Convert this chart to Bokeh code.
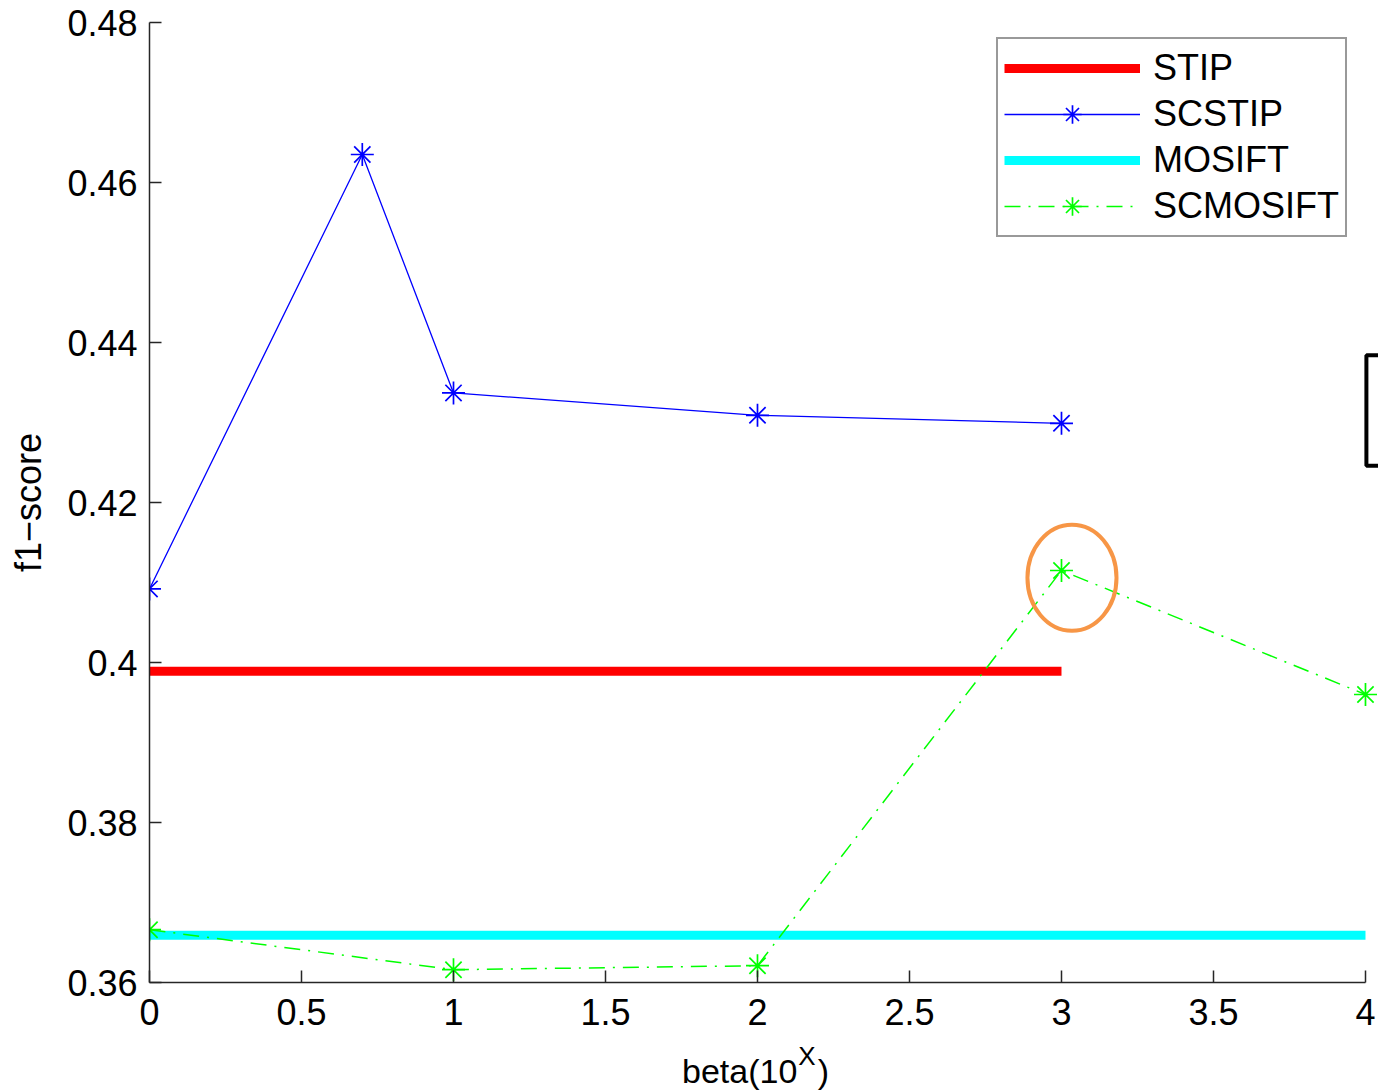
from bokeh.plotting import figure
from bokeh.models import Range1d, FixedTicker, Legend, LegendItem, BoxAnnotation, Div
from bokeh.layouts import column
from bokeh.embed import file_html
from bokeh.resources import INLINE

# ---- data ----
scstip_x = [0, 0.7, 1, 2, 3]
scstip_y = [0.4092, 0.4635, 0.4337, 0.4309, 0.4299]
scmosift_x = [0, 1, 2, 3, 4]
scmosift_y = [0.3666, 0.3616, 0.3621, 0.4115, 0.3960]
stip_x = [0, 3]
stip_y = [0.3989, 0.3989]
mosift_x = [0, 4]
mosift_y = [0.3659, 0.3659]

xticks = [0, 0.5, 1, 1.5, 2, 2.5, 3, 3.5, 4]
xtick_labels = ["0", "0.5", "1", "1.5", "2", "2.5", "3", "3.5", "4"]
yticks = [0.36, 0.38, 0.4, 0.42, 0.44, 0.46, 0.48]
ytick_labels = ["0.36", "0.38", "0.4", "0.42", "0.44", "0.46", "0.48"]

FONT = "Liberation Sans"
FIG_H = 1041

p = figure(width=1378, height=FIG_H, output_backend="svg", toolbar_location=None,
           x_range=Range1d(0, 4.0428), y_range=Range1d(0.36, 0.48),
           min_border_left=149, min_border_right=0, min_border_top=22,
           min_border_bottom=FIG_H - 982)
p.outline_line_color = None
p.grid.visible = False
p.background_fill_color = "white"

# axes
for ax in (p.xaxis[0], p.yaxis[0]):
    ax.major_tick_in = 12
    ax.major_tick_out = 0
    ax.minor_tick_in = 0
    ax.minor_tick_out = 0
    ax.axis_line_color = "#262626"
    ax.axis_line_width = 1.5
    ax.major_tick_line_color = "#262626"
    ax.major_tick_line_width = 1.5
    ax.major_label_text_font = FONT
    ax.major_label_text_font_size = "36px"
    ax.major_label_text_color = "black"

p.xaxis.ticker = FixedTicker(ticks=xticks)
p.xaxis.major_label_overrides = dict(zip(xticks, xtick_labels))
p.xaxis.bounds = (0, 4)
p.xaxis.major_label_standoff = 16

p.yaxis.ticker = FixedTicker(ticks=yticks)
p.yaxis.major_label_overrides = dict(zip(yticks, ytick_labels))
p.yaxis.bounds = (0.36, 0.48)
p.yaxis.major_label_standoff = 12
p.yaxis.axis_label = "f1\u2212score"
p.yaxis.axis_label_text_font = FONT
p.yaxis.axis_label_text_font_size = "36px"
p.yaxis.axis_label_text_font_style = "normal"
p.yaxis.axis_label_text_color = "black"
p.yaxis.axis_label_standoff = 15

# series
r_stip = p.line(stip_x, stip_y, line_color="#FF0000", line_width=9)
r_mosift = p.line(mosift_x, mosift_y, line_color="#00FFFF", line_width=9)
r_scstip_l = p.line(scstip_x, scstip_y, line_color="#0000FF", line_width=1.3)
r_scstip_m = p.scatter(scstip_x, scstip_y, marker="asterisk", size=23,
                       line_color="#0000FF", line_width=1.7)
r_scm_l = p.line(scmosift_x, scmosift_y, line_color="#00FF00", line_width=1.5,
                 line_dash="16 8 2 8")
r_scm_m = p.scatter(scmosift_x, scmosift_y, marker="asterisk", size=23,
                    line_color="#00FF00", line_width=1.7)

# orange highlight ellipse
p.ellipse(x=[3.0345], y=[0.4106], width=0.293, height=0.01325,
          fill_color=None, line_color="#F79646", line_width=4)

# partially visible box at right edge
p.add_layout(BoxAnnotation(left=4.003, right=4.6, top=0.4384, bottom=0.4246,
                           fill_alpha=0, line_color="black", line_alpha=1,
                           line_width=4))

legend = Legend(items=[
    LegendItem(label="STIP", renderers=[r_stip]),
    LegendItem(label="SCSTIP", renderers=[r_scstip_l, r_scstip_m]),
    LegendItem(label="MOSIFT", renderers=[r_mosift]),
    LegendItem(label="SCMOSIFT", renderers=[r_scm_l, r_scm_m]),
], location=(847, 745))
legend.label_text_font = FONT
legend.label_text_font_size = "36px"
legend.label_text_color = "black"
legend.glyph_width = 136
legend.glyph_height = 46
legend.label_height = 36
legend.label_standoff = 13
legend.spacing = 0
legend.padding = 6
legend.margin = 0
legend.border_line_color = "#333333"
legend.border_line_width = 2
legend.background_fill_color = "white"
legend.background_fill_alpha = 1
p.add_layout(legend, "center")

# x axis label with superscript (HTML text below the plot)
xlabel = Div(
    text=('<div style="font-family:\'Liberation Sans\';font-size:34px;color:black;'
          'line-height:34px;padding-top:13px;padding-left:682px;white-space:nowrap">'
          'beta(10<span style="font-size:26px;position:relative;top:-18px;'
          'margin-left:1px">X</span><span style="margin-left:2px">)</span></div>'),
    width=1378, height=1091 - FIG_H, margin=0)

layout = column(p, xlabel, spacing=0)
open("out.html", "w").write(file_html(layout, INLINE))
